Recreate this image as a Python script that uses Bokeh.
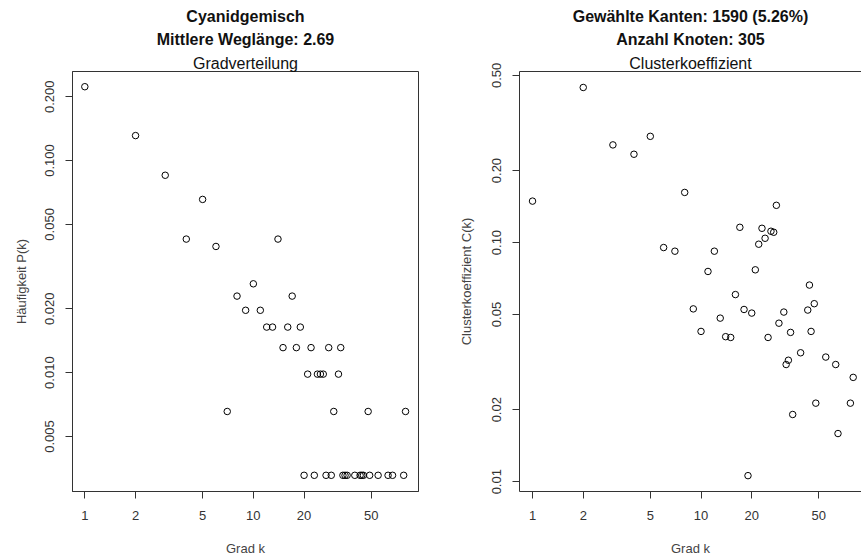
import math
from bokeh.plotting import figure
from bokeh.models import Title, FixedTicker, PrintfTickFormatter, LogAxis, Range1d
from bokeh.layouts import row
from bokeh.embed import file_html
from bokeh.resources import INLINE

N_NODES = 305

# Degree distribution: degree k and number of nodes with that degree
deg_k = [1, 2, 3, 4, 5, 6, 7, 8, 9, 10, 11, 12, 13, 14, 15, 16, 17, 18, 19, 20,
         21, 22, 23, 24, 25, 26, 27, 28, 29, 30, 32, 33, 34, 35, 36, 40, 43, 44,
         45, 48, 49, 55, 63, 67, 78, 80]
deg_count = [68, 40, 26, 13, 20, 12, 2, 7, 6, 8, 6, 5, 5, 13, 4, 5, 7, 4, 5, 1,
             3, 4, 1, 3, 3, 3, 1, 4, 1, 2, 3, 4, 1, 1, 1, 1, 1, 1,
             1, 2, 1, 1, 1, 1, 1, 2]
deg_p = [c / N_NODES for c in deg_count]

# Clustering coefficient per degree
cl_k = [1, 2, 3, 4, 5, 6, 7, 8, 9, 10, 11, 12, 13, 14, 15, 16, 17, 18, 19, 20,
        21, 22, 23, 24, 25, 26, 27, 28, 29, 31, 32, 33, 34, 35, 39, 43, 44, 45,
        47, 48, 55, 63, 65, 77, 80]
cl_c = [0.149, 0.445, 0.256, 0.234, 0.278, 0.0953, 0.092, 0.162, 0.0528, 0.0425,
        0.0757, 0.092, 0.0483, 0.0404, 0.0401, 0.0606, 0.1158, 0.0525, 0.0106, 0.0507,
        0.0769, 0.0984, 0.1147, 0.1042, 0.0401, 0.1115, 0.1104, 0.1431, 0.0460, 0.0512,
        0.0309, 0.0322, 0.0421, 0.0191, 0.0346, 0.0522, 0.0664, 0.0425, 0.0555, 0.0213,
        0.0332, 0.0309, 0.0159, 0.0213, 0.0273]

x_ticks = [1, 2, 5, 10, 20, 50]
y_ticks_left = [0.005, 0.010, 0.020, 0.050, 0.100, 0.200]
y_ticks_right = [0.01, 0.02, 0.05, 0.10, 0.20, 0.50]

FONT = "Liberation Sans"
TXT = "#333333"
LINE = "#333333"
PX_PER_DECADE = 168.5


def style(p, yfmt, ylab_standoff):
    p.outline_line_color = LINE
    p.outline_line_width = 1
    p.xgrid.visible = False
    p.ygrid.visible = False
    p.background_fill_color = "white"
    p.border_fill_color = "white"
    for ax in p.xaxis + p.yaxis:
        ax.axis_line_color = LINE
        ax.major_tick_line_color = LINE
        ax.major_tick_out = 7
        ax.major_tick_in = 0
        ax.minor_tick_line_color = None
        ax.major_label_text_font = FONT
        ax.major_label_text_font_size = "13px"
        ax.major_label_text_color = TXT
        ax.axis_label_text_font = FONT
        ax.axis_label_text_font_size = "13px"
        ax.axis_label_text_color = "#444444"
        ax.axis_label_text_font_style = "normal"
    p.xaxis.ticker = FixedTicker(ticks=x_ticks)
    p.xaxis.formatter = PrintfTickFormatter(format="%d")
    p.xaxis.major_label_standoff = 12
    p.xaxis.axis_label_standoff = 18
    p.yaxis.formatter = PrintfTickFormatter(format=yfmt)
    p.yaxis.major_label_orientation = "vertical"
    p.yaxis.major_label_standoff = 11
    p.yaxis.axis_label_standoff = ylab_standoff


def add_titles(p, sub, line2, line1, offset=0):
    p.add_layout(Title(text=sub, align="center", text_font=FONT, text_font_size="16px",
                       text_font_style="normal", text_color="#111111", standoff=0,
                       offset=offset), "above")
    p.add_layout(Title(text=line2, align="center", text_font=FONT, text_font_size="16px",
                       text_font_style="bold", text_color="#111111", standoff=9,
                       offset=offset), "above")
    p.add_layout(Title(text=line1, align="center", text_font=FONT, text_font_size="16px",
                       text_font_style="bold", text_color="#111111", standoff=0,
                       offset=offset), "above")


H = 558
# ---- left panel
p1 = figure(width=430, height=H, x_axis_type="log", y_axis_type="log",
            x_range=Range1d(0.845, 95.5), y_range=Range1d(0.00275, 0.263),
            output_backend="svg", toolbar_location=None,
            min_border_left=72, min_border_right=12, min_border_top=71, min_border_bottom=66,
            x_axis_label="Grad k", y_axis_label="Häufigkeit P(k)")
style(p1, "%.3f", 14)
p1.yaxis.ticker = FixedTicker(ticks=y_ticks_left)
p1.scatter(deg_k, deg_p, marker="circle", size=6.5, fill_color=None,
           line_color="black", line_width=1)
add_titles(p1, "Gradverteilung", "Mittlere Weglänge: 2.69", "Cyanidgemisch")

# ---- right panel (its box runs past the right edge of the window)
W2 = 431
frame_w2 = W2 - 89
x_start2 = 0.837
x_end2 = 10 ** (math.log10(x_start2) + frame_w2 / PX_PER_DECADE)
p2 = figure(width=W2, height=H, x_axis_type="log", y_axis_type="log",
            x_range=Range1d(x_start2, x_end2), y_range=Range1d(0.00910, 0.519),
            output_backend="svg", toolbar_location=None,
            min_border_left=89, min_border_right=0, min_border_top=71, min_border_bottom=66,
            x_axis_label="Grad k", y_axis_label="Clusterkoeffizient C(k)")
style(p2, "%.2f", 16)
p2.yaxis.ticker = FixedTicker(ticks=y_ticks_right)
p2.outline_line_color = None
top_ax = LogAxis(ticker=FixedTicker(ticks=[]), axis_line_color=LINE,
                 major_label_text_font_size="0px", minor_tick_line_color=None,
                 major_tick_line_color=None, major_tick_out=0, major_tick_in=0,
                 major_label_standoff=0)
p2.add_layout(top_ax, "above")
p2.scatter(cl_k, cl_c, marker="circle", size=6.5, fill_color=None,
           line_color="black", line_width=1)
add_titles(p2, "Clusterkoeffizient", "Anzahl Knoten: 305", "Gewählte Kanten: 1590 (5.26%)", offset=3)

layout = row(p1, p2)
open("out.html", "w").write(file_html(layout, INLINE))
